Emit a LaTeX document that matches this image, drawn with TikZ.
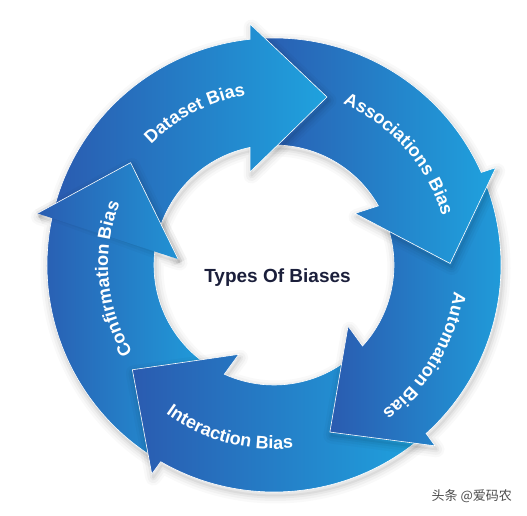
\documentclass[tikz,border=0pt]{standalone}
\usepackage{fontspec}
\setmainfont{Liberation Sans}
\newfontfamily\cjkfont{Noto Sans CJK SC}
\usetikzlibrary{decorations.text}
\definecolor{bdark}{HTML}{2A5BB0}
\definecolor{blight}{HTML}{1FA2DE}
\definecolor{navy}{HTML}{1B1F3B}
\definecolor{wmgray}{HTML}{4D4D4D}
% one curved arrow of the ring, rotated by #1 degrees
\newcommand{\ringarrow}[1]{({166.07+#1}:227pt) arc[start angle={166.07+#1}, end angle={96.07+#1}, radius=227pt] -- ({95.687+#1}:242.19pt) -- ({72.49+#1}:176.16pt) -- ({104.47+#1}:96.05pt) -- ({101.53+#1}:120pt) arc[start angle={101.53+#1}, end angle={171.53+#1}, radius=120pt] -- cycle}
\newcommand{\ringhead}[1]{({95.687+#1}:242.19pt) -- ({72.49+#1}:176.16pt) -- ({104.47+#1}:96.05pt)}
\newcommand{\labfont}{\fontsize{18}{18}\selectfont\bfseries}
\tikzset{
  arrowfill/.style={left color=bdark, right color=blight},
  arrowedge/.style={white, line width=0.6pt, line join=miter},
  shadowline/.style={black, line join=round, shift={(1.5pt,-3.5pt)}},
  arclabel/.style={decorate, decoration={text along path, text color=white, text align=center, text={|\labfont|#1}}}
}
\begin{document}
\begin{tikzpicture}
\fill[white] (-274pt,-251pt) rectangle (253pt,265pt);
\useasboundingbox (-274pt,-251pt) rectangle (253pt,265pt);
\foreach \k in {4,3,2,1,0} {
  \pgfmathsetmacro\a{-72*\k}
  \foreach \w/\o in {16/0.025,11/0.03,6/0.04,2/0.05} {
    \draw[shadowline, opacity=\o, line width=\w pt] \ringarrow{\a};
  }
  \shade[arrowfill] \ringarrow{\a};
  \draw[arrowedge] \ringarrow{\a};
}
% head of the last arrow lies over the tail of the first one
\pgfmathsetmacro\a{-288}
\foreach \w/\o in {16/0.025,11/0.03,6/0.04,2/0.05} {
  \draw[shadowline, opacity=\o, line width=\w pt] \ringhead{\a};
}
\begin{scope}
  \clip \ringhead{\a} -- cycle;
  \shade[arrowfill] \ringarrow{\a};
\end{scope}
\draw[arrowedge] \ringhead{\a};
% labels
\path[arclabel={Dataset Bias}] (162.5:172pt) arc[start angle=162.5, end angle=72.5, radius=172pt];
\path[arclabel={Associations Bias}] (86.5:175pt) arc[start angle=86.5, end angle=-3.5, radius=175pt];
\path[arclabel={Automation Bias}] (14:182pt) arc[start angle=14, end angle=-76, radius=182pt];
\path[arclabel={Interaction Bias}] (-150:184pt) arc[start angle=-150, end angle=-60, radius=184pt];
\path[arclabel={Confirmation Bias}] (230:166pt) arc[start angle=230, end angle=140, radius=166pt];
\node[font=\fontsize{19}{19}\selectfont\bfseries, text=navy] (title) at (3.5pt,-13pt) {Types Of Biases};
\node[font=\cjkfont\fontsize{13}{13}\selectfont, text=wmgray] (wm) at (197.7pt,-231.5pt) {头条 @爱码农};
\end{tikzpicture}
\end{document}
